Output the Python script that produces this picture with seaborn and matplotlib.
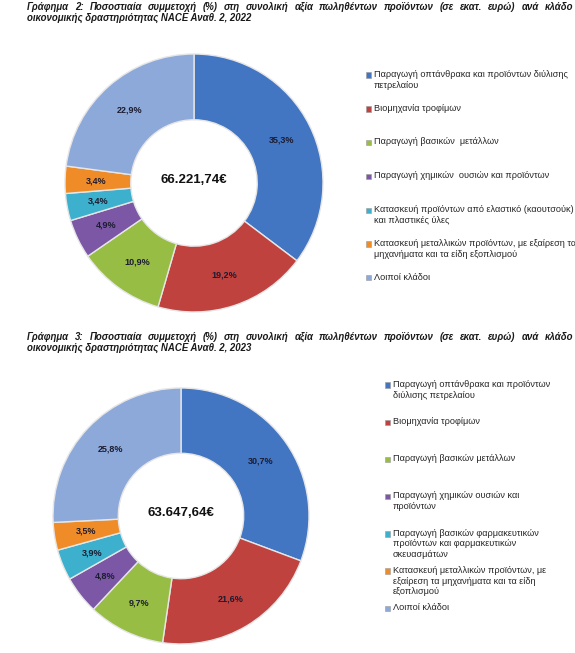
import numpy as np
import pandas as pd
import seaborn as sb
import matplotlib.pyplot as plt
from matplotlib import patches

sb.set_theme(style="white")
plt.rcParams['font.family'] = ['Liberation Sans', 'DejaVu Sans']

# data
sectors_2022 = ["Παραγωγή οπτάνθρακα και προϊόντων διύλισης\nπετρελαίου",
                "Βιομηχανία τροφίμων",
                "Παραγωγή βασικών  μετάλλων",
                "Παραγωγή χημικών  ουσιών και προϊόντων",
                "Κατασκευή προϊόντων από ελαστικό (καουτσούκ)\nκαι πλαστικές ύλες",
                "Κατασκευή μεταλλικών προϊόντων, με εξαίρεση τα\nμηχανήματα και τα είδη εξοπλισμού",
                "Λοιποί κλάδοι"]
shares_2022 = [35.3, 19.2, 10.9, 4.9, 3.4, 3.4, 22.9]
total_2022 = "66.221,74€"

sectors_2023 = ["Παραγωγή οπτάνθρακα και προϊόντων\nδιύλισης πετρελαίου",
                "Βιομηχανία τροφίμων",
                "Παραγωγή βασικών μετάλλων",
                "Παραγωγή χημικών ουσιών και\nπροϊόντων",
                "Παραγωγή βασικών φαρμακευτικών\nπροϊόντων και φαρμακευτικών\nσκευασμάτων",
                "Κατασκευή μεταλλικών προϊόντων, με\nεξαίρεση τα μηχανήματα και τα είδη\nεξοπλισμού",
                "Λοιποί κλάδοι"]
shares_2023 = [30.7, 21.6, 9.7, 4.8, 3.9, 3.5, 25.8]
total_2023 = "63.647,64€"

title_line1_2022 = "Γράφημα 2: Ποσοστιαία συμμετοχή (%) στη συνολική αξία πωληθέντων προϊόντων (σε εκατ. ευρώ) ανά κλάδο"
title_line1_2023 = "Γράφημα 3: Ποσοστιαία συμμετοχή (%) στη συνολική αξία πωληθέντων προϊόντων (σε εκατ. ευρώ) ανά κλάδο"
title_line2_2022 = "οικονομικής δραστηριότητας NACE Αναθ. 2, 2022"
title_line2_2023 = "οικονομικής δραστηριότητας NACE Αναθ. 2, 2023"

palette = sb.color_palette(["#4275C2", "#C0423F", "#97BD45", "#7B57A6",
                            "#3CB0CC", "#F08C27", "#8DA9DA"])

W, H = 575, 653
fig = plt.figure(figsize=(W / 100, H / 100), dpi=100)
renderer = fig.canvas.get_renderer()
title_kw = dict(fontsize=6.9, fontweight='bold', fontstyle='italic', color='#1a1a1a', va='center', ha='left')


def fx(px):
    return px / W


def fy(py):
    return 1 - py / H


def title(line1, line2, x0, x1, y):
    # first line is justified (word spacing stretched) like the report text
    words = line1.split(' ')
    texts = [fig.text(0, fy(y), w, **title_kw) for w in words]
    widths = [t.get_window_extent(renderer).width for t in texts]
    gap = (x1 - x0 - sum(widths)) / (len(words) - 1)
    x = x0
    for t, w in zip(texts, widths):
        t.set_x(fx(x))
        x += w + gap
    fig.text(fx(x0), fy(y + 10.5), line2, **title_kw)


def donut(cx, cy, R, values, total):
    side = 2.5 * R
    ax = fig.add_axes([fx(cx - side / 2), fy(cy + side / 2), side / W, side / H])
    df = pd.DataFrame({'share': values})
    wedges, _, pcts = ax.pie(df['share'], colors=palette, startangle=90, counterclock=False,
                             wedgeprops=dict(width=0.51, edgecolor="#e6e6e6", linewidth=1.0),
                             autopct=lambda p: f"{p:.1f}%".replace('.', ','), pctdistance=0.755)
    for t in pcts:
        t.set_fontsize(6.5)
        t.set_fontweight('bold')
        t.set_color('#1c1c30')
    ax.text(0, 0.02, total, ha='center', va='center', fontsize=9.5, fontweight='bold', color='#111111')
    ax.set_xlim(-1.25, 1.25)
    ax.set_ylim(-1.25, 1.25)
    ax.set_aspect('equal')
    ax.axis('off')
    return wedges


def legend_block(labels, x0, y0, step):
    for i, lab in enumerate(labels):
        yc = y0 + i * step
        fig.add_artist(patches.Rectangle((fx(x0), fy(yc + 2.7)), 5.4 / W, 5.4 / H,
                                         transform=fig.transFigure, facecolor=palette[i],
                                         edgecolor='#9a9a9a', linewidth=0.4))
        fig.text(fx(x0 + 8), fy(yc - 5.2), lab, va='top', ha='left', fontsize=6.6,
                 color='#262626', linespacing=1.25)


# 2022
title(title_line1_2022, title_line2_2022, 27, 573, 7)
donut(194, 183, 129, shares_2022, total_2022)
legend_block(sectors_2022, 366, 75, 33.8)

# 2023
title(title_line1_2023, title_line2_2023, 27, 573, 337)
donut(181, 516, 128, shares_2023, total_2023)
legend_block(sectors_2023, 385, 385, 37.2)

fig.savefig("out.png", dpi=100)
